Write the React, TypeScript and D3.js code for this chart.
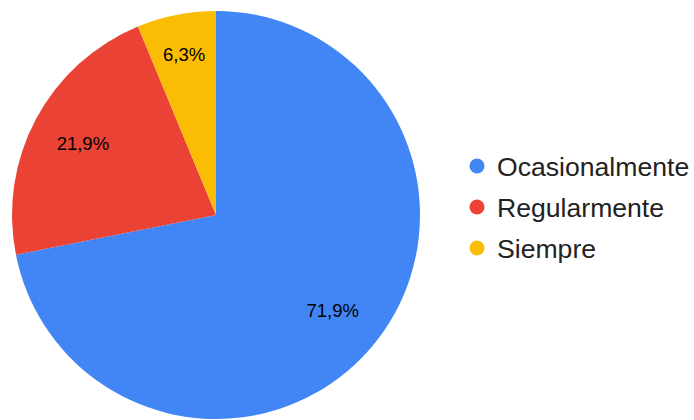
import React from "react";
import * as d3 from "d3";

const categories = ["Ocasionalmente", "Regularmente", "Siempre"];
const values = [23, 7, 2];
const colors = ["#4285F4", "#EA4335", "#FBBC04"];

export default function App() {
  const width = 694;
  const height = 420;
  const cx = 216;
  const cy = 215;
  const r = 204;
  const total = d3.sum(values);
  const pie = d3.pie<number>().sort(null).value((d) => d);
  const arcs = pie(values);
  const arc = d3.arc<d3.PieArcDatum<number>>().innerRadius(0).outerRadius(r);
  const fmt = (v: number) => (Math.round((v / total) * 1000) / 10).toFixed(1).replace(".", ",") + "%";
  const labelPos = (a: d3.PieArcDatum<number>) => {
    const frac = (a.endAngle - a.startAngle) / (2 * Math.PI);
    const k = frac < 0.1 ? 0.8 : 0.74;
    const mid = (a.startAngle + a.endAngle) / 2;
    return [Math.sin(mid) * r * k, -Math.cos(mid) * r * k];
  };
  const legendY = d3.scalePoint<string>().domain(categories).range([166, 248]);
  return (
    <svg width={width} height={height} style={{ position: "absolute", left: 0, top: 0, fontFamily: "'Liberation Sans', Arial, sans-serif" }}>
      <rect width={width} height={height} fill="#fff" />
      <g transform={`translate(${cx},${cy})`}>
        {arcs.map((a, i) => (
          <path key={i} d={arc(a) || ""} fill={colors[i]} />
        ))}
        {arcs.map((a, i) => {
          const [x, y] = labelPos(a);
          return (
            <text key={"l" + i} x={x} y={y} dy="0.35em" textAnchor="middle" fontSize={18.5} fill="#000">
              {fmt(values[i])}
            </text>
          );
        })}
      </g>
      {categories.map((c, i) => (
        <g key={c} transform={`translate(0,${legendY(c)})`}>
          <circle cx={477} cy={0} r={7.5} fill={colors[i]} />
          <text x={497} y={0} dy="0.36em" fontSize={26.6} fill="#222">
            {c}
          </text>
        </g>
      ))}
    </svg>
  );
}
